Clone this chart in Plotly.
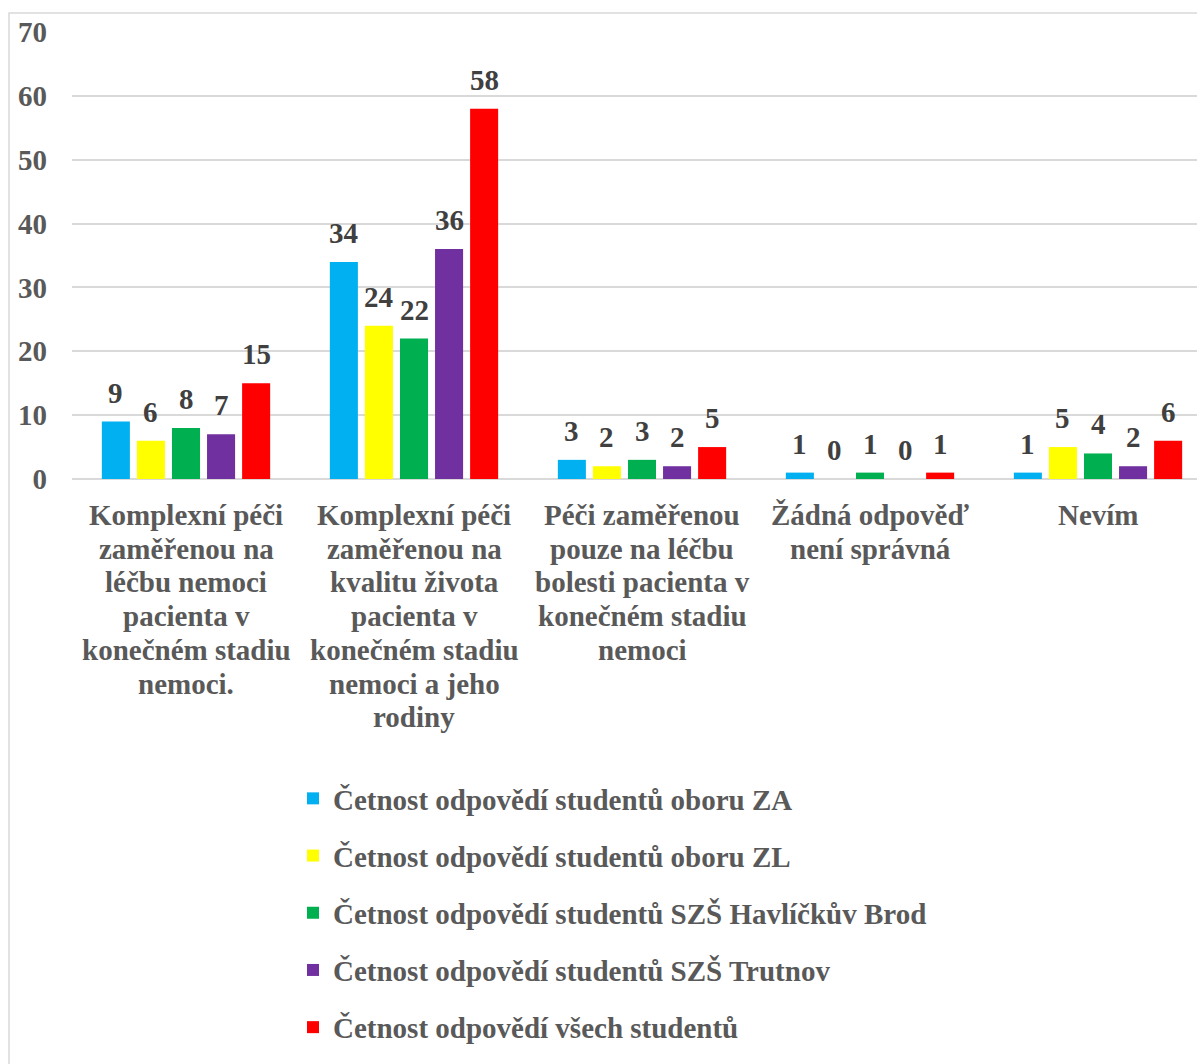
import plotly.graph_objects as go

categories = [
    "Komplexní péči<br>zaměřenou na<br>léčbu nemoci<br>pacienta v<br>konečném stadiu<br>nemoci.",
    "Komplexní péči<br>zaměřenou na<br>kvalitu života<br>pacienta v<br>konečném stadiu<br>nemoci a jeho<br>rodiny",
    "Péči zaměřenou<br>pouze na léčbu<br>bolesti pacienta v<br>konečném stadiu<br>nemoci",
    "Žádná odpověď<br>není správná",
    "Nevím",
]

series_names = [
    "Četnost odpovědí studentů oboru ZA",
    "Četnost odpovědí studentů oboru ZL",
    "Četnost odpovědí studentů SZŠ Havlíčkův Brod",
    "Četnost odpovědí studentů SZŠ Trutnov",
    "Četnost odpovědí všech studentů",
]

za_values = [9, 34, 3, 1, 1]
zl_values = [6, 24, 2, 0, 5]
hb_values = [8, 22, 3, 1, 4]
trutnov_values = [7, 36, 2, 0, 2]
all_values = [15, 58, 5, 1, 6]

series_values = [za_values, zl_values, hb_values, trutnov_values, all_values]
series_colors = ["#00B0F0", "#FFFF00", "#00B050", "#7030A0", "#FF0000"]

y_ticks = [0, 10, 20, 30, 40, 50, 60, 70]

FONT = "Liberation Serif"
FS = 29
LABEL_GRAY = "#595959"
VALUE_GRAY = "#404040"

BARGAP = 0.231
GROUPGAP = 0.2

W, H = 1197, 1064
L, R, T, B = 72, 0, 32, 585
pw = W - L - R
ph = H - T - B
CAT_PX = 228.0


def px_x(p):
    return (p - L) / pw


def px_y(p):
    return (H - B - p) / ph


fig = go.Figure()
n = len(series_values)
slot = (1 - BARGAP) / n
annotations = []
for i, (name, vals, col) in enumerate(zip(series_names, series_values, series_colors)):
    fig.add_trace(go.Bar(
        x=list(range(len(categories))),
        y=vals,
        name=f"<b>{name}</b>",
        marker=dict(color=col, line=dict(width=0)),
        legendgroup=f"g{i}",
        hoverinfo="y",
    ))
    # value labels above each bar, at the bar's grouped position
    offset = (i - (n - 1) / 2) * slot
    for c, v in enumerate(vals):
        annotations.append(dict(
            x=c + offset, y=v, xref="x", yref="y",
            text=f"<b>{v}</b>", showarrow=False,
            yanchor="middle", xanchor="center", yshift=29,
            font=dict(family=FONT, size=FS, color=VALUE_GRAY),
        ))

# category labels, one annotation per line for tighter line spacing
LINE_STEP = 33.7
for c, label in enumerate(categories):
    for k, line in enumerate(label.split("<br>")):
        annotations.append(dict(
            x=c, y=0, xref="x", yref="y",
            text=f"<b>{line}</b>", showarrow=False,
            yanchor="middle", xanchor="center",
            yshift=-(36 + k * LINE_STEP),
            font=dict(family=FONT, size=FS, color=LABEL_GRAY),
        ))

fig.update_layout(
    width=W,
    height=H,
    margin=dict(l=L, r=R, t=T, b=B, autoexpand=False),
    paper_bgcolor="white",
    plot_bgcolor="white",
    barmode="group",
    bargap=BARGAP,
    bargroupgap=GROUPGAP,
    font=dict(family=FONT, size=FS, color=LABEL_GRAY),
    showlegend=True,
    legend=dict(
        x=px_x(293),
        y=px_y(773),
        xanchor="left",
        yanchor="top",
        orientation="v",
        tracegroupgap=16.5,
        font=dict(family=FONT, size=FS, color=LABEL_GRAY),
        itemwidth=30,
        bgcolor="rgba(0,0,0,0)",
    ),
    annotations=annotations,
    shapes=[
        dict(
            type="rect", xref="paper", yref="paper",
            x0=px_x(9), x1=px_x(W + 10),
            y0=px_y(H + 10), y1=px_y(13),
            line=dict(color="#D9D9D9", width=1.5),
            fillcolor="rgba(0,0,0,0)",
            layer="below",
        )
    ],
)

fig.update_xaxes(
    range=[-0.5, -0.5 + pw / CAT_PX],
    showgrid=False,
    showline=False,
    zeroline=False,
    ticks="",
    showticklabels=False,
    automargin=False,
)

fig.update_yaxes(
    range=[0, 70],
    tickvals=y_ticks,
    ticktext=[f"<b>{t}</b>" for t in y_ticks],
    showgrid=True,
    gridcolor="#D9D9D9",
    gridwidth=1.5,
    zeroline=True,
    zerolinecolor="#D9D9D9",
    zerolinewidth=1.5,
    showline=False,
    ticks="",
    ticklabelstandoff=24,
    tickfont=dict(family=FONT, size=FS, color=LABEL_GRAY),
    automargin=False,
)

fig.write_html("out.html")
